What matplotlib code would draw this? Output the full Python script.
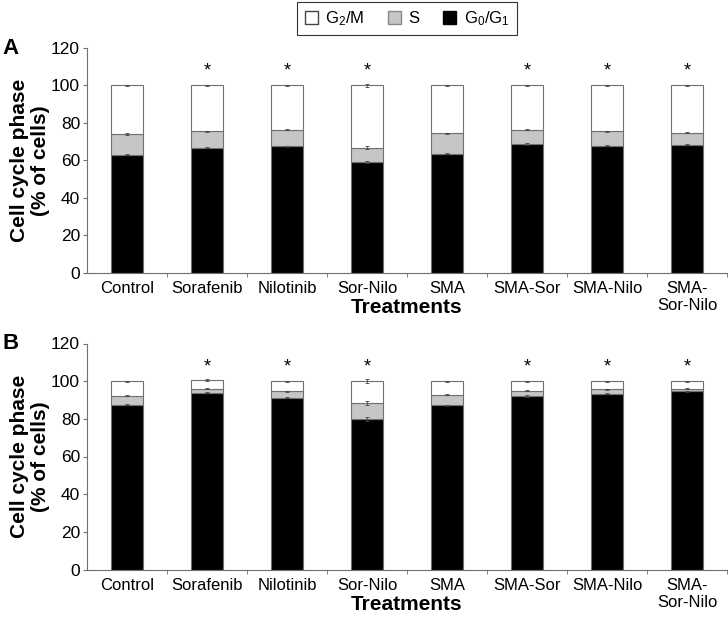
import matplotlib
matplotlib.use("Agg")
import matplotlib.pyplot as plt
from matplotlib.patches import Patch
import numpy as np

plt.rcParams['font.family'] = ['Liberation Sans', 'DejaVu Sans']
plt.rcParams['mathtext.fontset'] = 'custom'
plt.rcParams['mathtext.rm'] = 'Liberation Sans'
plt.rcParams['mathtext.it'] = 'Liberation Sans:italic'
plt.rcParams['mathtext.bf'] = 'Liberation Sans:bold'

categories = ["Control", "Sorafenib", "Nilotinib", "Sor-Nilo", "SMA", "SMA-Sor", "SMA-Nilo", "SMA-\nSor-Nilo"]

# Panel A
a_g0g1 = [63.0, 66.8, 67.5, 59.2, 63.4, 68.7, 67.8, 68.4]
a_s = [11.1, 8.7, 8.9, 7.6, 11.0, 7.7, 7.7, 6.2]
a_g2m = [25.9, 24.5, 23.6, 33.2, 25.6, 23.6, 24.5, 25.4]
a_err = [0.4, 0.3, 0.3, 0.6, 0.3, 0.3, 0.3, 0.3]
a_sig = [False, True, True, True, False, True, True, True]

# Panel B
b_g0g1 = [87.5, 93.9, 91.2, 80.1, 87.3, 92.0, 93.4, 94.6]
b_s = [4.8, 2.1, 3.4, 8.5, 5.4, 3.0, 2.3, 1.4]
b_g2m = [7.7, 4.6, 5.4, 11.4, 7.3, 4.9, 4.3, 4.0]
b_err = [0.3, 0.4, 0.3, 1.0, 0.3, 0.4, 0.3, 0.3]
b_sig = [False, True, True, True, False, True, True, True]

W, H = 728, 619
def rect_px(left, top, right, bottom):
    return [left / W, 1 - bottom / H, (right - left) / W, (bottom - top) / H]

panels = [("A", a_g0g1, a_s, a_g2m, a_err, a_sig, rect_px(87, 48, 727, 272.5)),
          ("B", b_g0g1, b_s, b_g2m, b_err, b_sig, rect_px(87, 343.5, 727, 569.5))]

fig = plt.figure(figsize=(7.28, 6.19), dpi=100)
edge = "#707070"
x = np.arange(len(categories))
w = 0.4

for label, g0, s, g2, err, sig, rect in panels:
    ax = fig.add_axes(rect)
    g0 = np.array(g0); s = np.array(s); g2 = np.array(g2)
    ax.bar(x, g0, w, color="black", edgecolor=edge, linewidth=0.8, zorder=2)
    ax.bar(x, s, w, bottom=g0, color="#c6c6c6", edgecolor=edge, linewidth=0.8, zorder=2)
    ax.bar(x, g2, w, bottom=g0 + s, color="white", edgecolor=edge, linewidth=0.8, zorder=2)
    for tops in (g0, g0 + s, g0 + s + g2):
        ax.errorbar(x, tops, yerr=err, fmt="none", ecolor="#444444", elinewidth=0.6,
                    capsize=1.5, capthick=0.6, zorder=3)
    for xi, flag in zip(x, sig):
        if flag:
            ax.text(xi, 103, "*", ha="center", va="bottom", fontsize=13)
    ax.set_xlim(-0.5, len(categories) - 0.5)
    ax.set_ylim(0, 120)
    ax.set_yticks(range(0, 121, 20))
    ax.set_xticks(x)
    ax.set_xticklabels(categories, fontsize=12, linespacing=1.2)
    ax.set_xticks(np.arange(0.5, len(categories) - 0.5 + 0.01, 1.0), minor=True)
    ax.tick_params(axis="x", which="major", length=0, pad=6)
    ax.tick_params(axis="x", which="minor", length=3, color=edge, direction="out")
    ax.tick_params(axis="y", labelsize=12.5, length=3, color=edge, pad=2)
    for sp in ("top", "right"):
        ax.spines[sp].set_visible(False)
    for sp in ("left", "bottom"):
        ax.spines[sp].set_color(edge)
    ax.set_ylabel("Cell cycle phase\n(% of cells)", fontsize=15, fontweight="bold",
                  labelpad=1, linespacing=1.1)
    ax.text(0.5, -0.154, "Treatments", transform=ax.transAxes, fontsize=15,
            fontweight="bold", ha="center", va="center")
    ax_top_frac = rect[1] + rect[3]
    fig.text(0.003, ax_top_frac, label, fontsize=16, fontweight="bold",
             ha="left", va="center")

handles = [Patch(facecolor="white", edgecolor="#444444", label="G$_2$/M"),
           Patch(facecolor="#c6c6c6", edgecolor="#888888", label="S"),
           Patch(facecolor="black", edgecolor="black", label="G$_0$/G$_1$")]
leg = fig.legend(handles=handles, loc="upper center", bbox_to_anchor=(407 / W, 1.0), ncol=3,
                 frameon=True, fancybox=False, edgecolor="black", fontsize=12,
                 handlelength=0.8, handleheight=0.8, handletextpad=0.45,
                 columnspacing=1.4, borderpad=0.45, borderaxespad=0.1)
leg.get_frame().set_linewidth(0.8)

fig.savefig("out.png", dpi=100)
